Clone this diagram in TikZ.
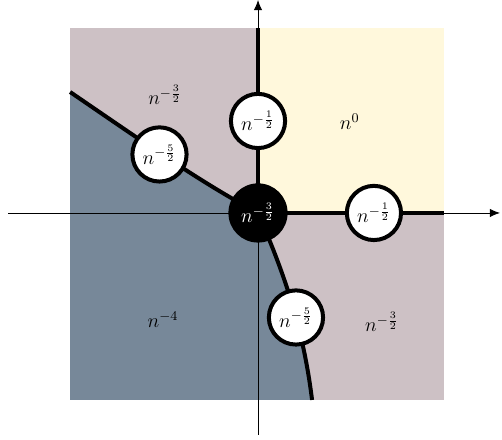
\documentclass[tikz,border=0pt]{standalone}
\usepackage{amsmath,amssymb}
\usepackage{xcolor}
\usepackage{tikz}
\usetikzlibrary{arrows.meta,calc}

\definecolor{mauve}{RGB}{205,193,197}
\definecolor{cream}{RGB}{255,248,220}
\definecolor{slate}{RGB}{119,136,153}

\begin{document}
\begin{tikzpicture}[x=3.94cm, y=3.94cm, font=\large,
  bnd/.style={line width=2.4pt},
  crit/.style={circle, draw=black, line width=2.4pt, fill=white, inner sep=0pt, minimum size=32.5pt},
  core/.style={circle, fill=black, text=white, inner sep=0pt, minimum size=35.5pt},
  axis/.style={line width=0.5pt, -{Latex[length=6pt,width=5pt]}}]
\useasboundingbox (-1.380,-1.214) rectangle (1.305,1.139);
% corners of the square and the ends of the boundaries
\coordinate (O) at (0,0);
\coordinate (sw) at (-1.005,-1.0);
\coordinate (ne) at (0.995,0.99);
\coordinate (wend) at (-1.005,0.647);
\coordinate (send) at (0.289,-1.0);
\coordinate (nend) at (0,0.99);
\coordinate (eend) at (0.995,0);
% regions
\fill[mauve] (sw) rectangle (ne);
\fill[cream] (O) rectangle (ne);
\fill[slate] (sw) -- (wend) .. controls (-0.6,0.37) and (-0.3,0.16) .. (O)
  .. controls (0.13,-0.3) and (0.24,-0.6) .. (send) -- cycle;
% axes
\coordinate (xl) at (-1.337,0);
\coordinate (xr) at (1.294,0);
\coordinate (yb) at (0,-1.187);
\coordinate (yt) at (0,1.139);
\draw[axis] (xl) -- (xr);
\draw[axis] (yb) -- (yt);
% boundaries
\draw[bnd] (O) -- (nend);
\draw[bnd] (O) -- (eend);
\draw[bnd] (wend) .. controls (-0.6,0.37) and (-0.3,0.16) .. (O);
\draw[bnd] (O) .. controls (0.13,-0.3) and (0.24,-0.6) .. (send);
% labels of the regions
\node (rUL) at (-0.497,0.63) {$n^{-\frac{3}{2}}$};
\node (rUR) at (0.49,0.487) {$n^{0}$};
\node (rLL) at (-0.508,-0.572) {$n^{-4}$};
\node (rLR) at (0.663,-0.583) {$n^{-\frac{3}{2}}$};
% critical points
\node[crit] (top) at (0,0.492) {$n^{-\frac{1}{2}}$};
\node[crit] (right) at (0.62,0) {$n^{-\frac{1}{2}}$};
\node[crit] (ul) at (-0.527,0.313) {$n^{-\frac{5}{2}}$};
\node[crit] (lo) at (0.203,-0.559) {$n^{-\frac{5}{2}}$};
\node[core] (o) at (O) {$n^{-\frac{3}{2}}$};
\end{tikzpicture}
\end{document}
